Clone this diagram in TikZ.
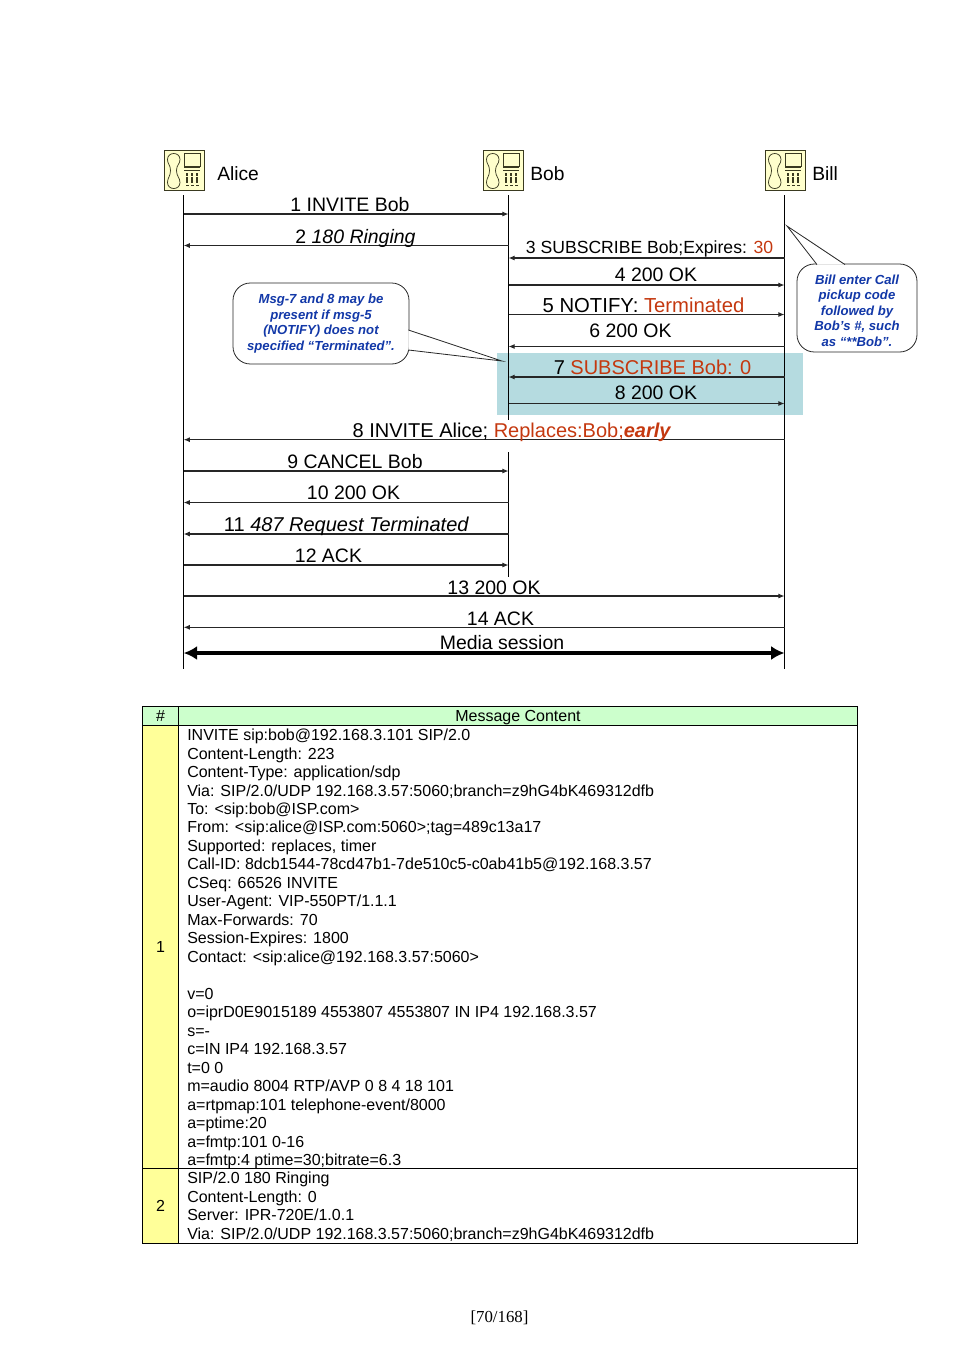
\documentclass[tikz,border=0pt]{standalone}
\usepackage{fontspec}
\setmainfont{Liberation Sans}
\newfontfamily\pagefont{Liberation Serif}
\usetikzlibrary{arrows.meta,shapes}

\tikzset{
  phoneset/.pic={
    % handset
    \draw [phoneline] (-17,-11) .. controls (-17,-19) and (-4.5,-19) .. (-4.5,-11)
       .. controls (-4.5,-6) and (-8,-6) .. (-8,0) .. controls (-8,6) and (-4.5,7) .. (-4.5,12)
       .. controls (-4.5,20) and (-17,20) .. (-17,12) .. controls (-17,7) and (-14,6) .. (-14,0)
       .. controls (-14,-6) and (-17,-6) .. (-17,-11) -- cycle;
    % screen and keys
    \draw [phoneline] (-0.5,-17) rectangle (15.5,-4.5);
    \draw [phoneline] (-0.5,-2.8) -- (15.5,-2.8);
    \draw [phoneline] (-0.5,-0.5) -- (15.5,-0.5);
    \foreach \kx in {2.5,7.5,12.5} {
      \draw [phonekey] (\kx,2.5) -- (\kx,12.5);
      \fill [phtxt] (\kx-1.5,14.5) rectangle (\kx+1.5,15.8);
    }
  }
}

\begin{document}
\begin{tikzpicture}[x=0.75pt,y=-0.75pt,>={Latex[length=4.6pt,width=3.8pt]},auto]

  \definecolor{phbox}{HTML}{FFFFCC} % pale yellow
  \definecolor{phtxt}{HTML}{3A3A20} % olive black
  \definecolor{mline}{HTML}{262626} % off-black
  \definecolor{rtxt}{HTML}{C4380F}  % red orange
  \definecolor{ntxt}{HTML}{1238A8}  % note blue
  \definecolor{hlbox}{HTML}{B5DBE0} % light teal
  \definecolor{hdrbox}{HTML}{CCFFCC} % light green
  \definecolor{numbox}{HTML}{FFFF99} % yellow

  \tikzstyle{phonebox}=[rectangle,draw=phtxt,fill=phbox,line width=0.6pt,
    minimum size=30.5pt,inner sep=0]
  \tikzstyle{phoneline}=[draw=phtxt,line width=0.55pt]
  \tikzstyle{phonekey}=[draw=phtxt,line width=2pt,dash pattern=on 2.2pt off 0.6pt]
  \tikzstyle{party}=[anchor=west,inner sep=0,font=\fontsize{14.4pt}{16pt}\selectfont]
  \tikzstyle{life}=[color=black,line width=0.75pt]
  \tikzstyle{msg}=[->,color=mline,line width=0.8pt]
  \tikzstyle{media}=[{Latex[length=10pt,width=10.5pt]}-{Latex[length=10pt,width=10.5pt]},
    color=black,line width=3.4pt]
  \tikzstyle{lbl}=[anchor=base,inner sep=0,yshift=-0.4pt,font=\fontsize{14.6pt}{16pt}\selectfont]
  \tikzstyle{lblwide}=[lbl,font=\fontsize{15pt}{16pt}\selectfont]
  \tikzstyle{note}=[rectangle,rounded corners=13pt,draw=mline,fill=white,text=ntxt,
    line width=0.6pt,inner sep=0,align=center,
    font=\fontsize{9.85pt}{11.7pt}\selectfont\bfseries\itshape]
  \tikzstyle{tail}=[draw=mline,fill=white,line width=0.6pt]
  \tikzstyle{cell}=[rectangle,draw=black,line width=0.75pt,inner sep=0,
    font=\fontsize{12pt}{13.8pt}\selectfont]
  \tikzstyle{hdr}=[cell,fill=hdrbox,minimum height=14.25pt,text height=8.6pt,text depth=0.6pt]
  \tikzstyle{body}=[anchor=north west,inner sep=0,align=left,
    font=\fontsize{12pt}{13.86pt}\selectfont]

  \useasboundingbox (0,0) rectangle (954,1350);

  %% phones
  \node  (alice) at (184.5,170.5) [phonebox] {};
  \node  (bob)   at (503.5,170.5) [phonebox] {};
  \node  (bill)  at (785.5,170.5) [phonebox] {};
  \foreach \ph in {alice,bob,bill} { \pic at (\ph) {phoneset}; }

  \node  (alicetxt) at (217,173.5) [party] {Alice};
  \node  (bobtxt)   at (530,173.5) [party] {Bob};
  \node  (billtxt)  at (812,173.5) [party] {Bill};

  %% highlight behind msg 7 and 8
  \node  (hilite) at (650,383.5) [rectangle,fill=hlbox,inner sep=0,
    minimum width=229.5pt,minimum height=46.5pt] {};

  %% one coordinate per message on each line
  \foreach \row/\ypos in {1/214,2/245.5,3/258,4/285,5/314.5,6/346.5,7/377,8/403.5,
      inv/439.7,9/471,10/502.5,11/534,12/565,13/596,14/627.3,m/653} {
    \coordinate (a\row) at (183.7,\ypos);
    \coordinate (b\row) at (508.5,\ypos);
    \coordinate (c\row) at (784.5,\ypos);
  }
  \coordinate (atop)  at (183.7,195);
  \coordinate (aend)  at (183.7,669);
  \coordinate (btop)  at (508.5,195);
  \coordinate (bstop) at (508.5,420);
  \coordinate (bgo)   at (508.5,452);
  \coordinate (bend)  at (508.5,577);
  \coordinate (ctop)  at (784.5,195);
  \coordinate (cend)  at (784.5,669);

  \path (atop)  edge [life] (aend)
        (btop)  edge [life] (bstop)
        (bgo)   edge [life] (bend)
        (ctop)  edge [life] (cend);

  \path (a1)  edge [msg] (b1)
        (b2)  edge [msg] (a2)
        (c3)  edge [msg] (b3)
        (b4)  edge [msg] (c4)
        (b5)  edge [msg] (c5)
        (c6)  edge [msg] (b6)
        (c7)  edge [msg] (b7)
        (b8)  edge [msg] (c8)
        (cinv) edge [msg] (ainv)
        (a9)  edge [msg] (b9)
        (b10) edge [msg] (a10)
        (b11) edge [msg] (a11)
        (a12) edge [msg] (b12)
        (a13) edge [msg] (c13)
        (c14) edge [msg] (a14)
        (am)  edge [media] (cm);

  \node  (l1)   at (350,211)     [lbl] {1 INVITE Bob};
  \node  (l2)   at (355.5,242.5) [lbl] {2 \textit{180 Ringing}};
  \node  (l3)   at (649.5,252.7) [lbl,font=\fontsize{13.2pt}{16pt}\selectfont] {3 SUBSCRIBE Bob;Expires: \textcolor{rtxt}{30}};
  \node  (l4)   at (656,280.7)   [lbl] {4 200 OK};
  \node  (l5)   at (643.5,312)   [lblwide,font=\fontsize{15.2pt}{16pt}\selectfont] {5 NOTIFY: \textcolor{rtxt}{Terminated}};
  \node  (l6)   at (630.5,336.7) [lbl] {6 200 OK};
  \node  (l7)   at (652.5,374.3) [lblwide] {7 \textcolor{rtxt}{SUBSCRIBE Bob: 0}};
  \node  (l8)   at (656,399.3)   [lbl] {8 200 OK};
  \node  (linv) at (512,437.3)   [lblwide] {8 INVITE Alice; \textcolor{rtxt}{Replaces:Bob;\textbf{\textit{early}}}};
  \node  (l9)   at (355,468.3)   [lbl] {9 CANCEL Bob};
  \node  (l10)  at (353.5,499.3) [lbl] {10 200 OK};
  \node  (l11)  at (346.5,530.7) [lblwide] {11 \textit{487 Request Terminated}};
  \node  (l12)  at (328.5,561.7) [lbl] {12 ACK};
  \node  (l13)  at (494,594.3)   [lbl] {13 200 OK};
  \node  (l14)  at (500.5,625)   [lbl] {14 ACK};
  \node  (lm)   at (502,649.3)   [lbl] {Media session};

  %% notes
  \node  (note1) at (321,323.5) [note,minimum width=132pt,minimum height=60.75pt]
         {Msg-7 and 8 may be\\present if msg-5\\(NOTIFY) does not\\specified “Terminated”.};
  \coordinate (tip1) at (502,361);
  \draw [tail] (408.4,330) -- (tip1) -- (408.4,350);

  \node  (note2) at (857,308) [note,minimum width=90pt,minimum height=66pt]
         {\rule{0pt}{11pt}Bill enter Call\\pickup code\\followed by\\Bob’s \#, such\\as “**Bob”.};
  \coordinate (tip2) at (787,226);
  \draw [tail] (845,264.6) -- (tip2) -- (817,264.6);

  %% table
  \node  (hnum) at (160.5,716)   [hdr,minimum width=27pt] {\#};
  \node  (htxt) at (518,716)     [hdr,minimum width=509.25pt] {Message Content};
  \node  (num1) at (160.5,947)   [cell,fill=numbox,minimum width=27pt,minimum height=332.25pt] {1};
  \node  (msg1) at (518,947)     [cell,minimum width=509.25pt,minimum height=332.25pt] {};
  \node  (num2) at (160.5,1206)  [cell,fill=numbox,minimum width=27pt,minimum height=56.25pt] {2};
  \node  (msg2) at (518,1206)    [cell,minimum width=509.25pt,minimum height=56.25pt] {};

  \node  (txt1) at (187,728.7) [body]
         {INVITE sip:bob@192.168.3.101 SIP/2.0\\
          Content-Length: 223\\
          Content-Type: application/sdp\\
          Via: SIP/2.0/UDP 192.168.3.57:5060;branch=z9hG4bK469312dfb\\
          To: <sip:bob@ISP.com>\\
          From: <sip:alice@ISP.com:5060>;tag=489c13a17\\
          Supported: replaces, timer\\
          Call-ID: 8dcb1544-78cd47b1-7de510c5-c0ab41b5@192.168.3.57\\
          CSeq: 66526 INVITE\\
          User-Agent: VIP-550PT/1.1.1\\
          Max-Forwards: 70\\
          Session-Expires: 1800\\
          Contact: <sip:alice@192.168.3.57:5060>\\
          \mbox{}\\
          v=0\\
          o=iprD0E9015189 4553807 4553807 IN IP4 192.168.3.57\\
          s=-\\
          c=IN IP4 192.168.3.57\\
          t=0 0\\
          m=audio 8004 RTP/AVP 0 8 4 18 101\\
          a=rtpmap:101 telephone-event/8000\\
          a=ptime:20\\
          a=fmtp:101 0-16\\
          a=fmtp:4 ptime=30;bitrate=6.3};

  \node  (txt2) at (187,1171.7) [body]
         {SIP/2.0 180 Ringing\\
          Content-Length: 0\\
          Server: IPR-720E/1.0.1\\
          Via: SIP/2.0/UDP 192.168.3.57:5060;branch=z9hG4bK469312dfb};

  \node  (pageno) at (499.5,1322.7) [anchor=base,inner sep=0,font=\fontsize{12.6pt}{14pt}\pagefont] {[70/168]};

\end{tikzpicture}
\end{document}
